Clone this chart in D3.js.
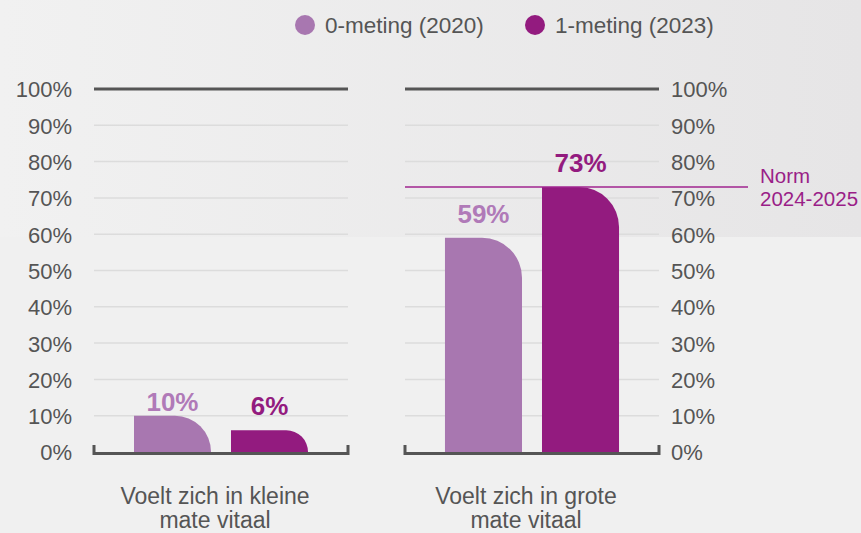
<!DOCTYPE html>
<html>
<head>
<meta charset="utf-8">
<script src="https://cdn.jsdelivr.net/npm/d3@7"></script>
<style>
  body { margin: 0; background: #f0f0f0; }
  svg { display: block; font-family: "Liberation Sans", Arial, sans-serif; }
</style>
</head>
<body>
<svg id="chart" width="861" height="533"></svg>
<script>
// data
const categories = ["Voelt zich in kleine mate vitaal", "Voelt zich in grote mate vitaal"];
const categoryLines = [["Voelt zich in kleine", "mate vitaal"], ["Voelt zich in grote", "mate vitaal"]];
const series = ["0-meting (2020)", "1-meting (2023)"];
const values2020 = [10, 59];
const values2023 = [6, 73];
const normValue = 73;
const normLabel = ["Norm", "2024-2025"];
const yTicks = [0, 10, 20, 30, 40, 50, 60, 70, 80, 90, 100];

const colors = ["#a877b0", "#931b7f"];
const labelColors = ["#b07ab8", "#931b7f"];

const svg = d3.select("#chart");

// achtergrond verloop bovenin
const defs = svg.append("defs");
const grad = defs.append("linearGradient").attr("id", "bgGrad")
  .attr("x1", "0%").attr("x2", "100%").attr("y1", "0%").attr("y2", "0%");
grad.append("stop").attr("offset", "0%").attr("stop-color", "#f1f1f1");
grad.append("stop").attr("offset", "100%").attr("stop-color", "#e6e5e6");
svg.append("rect").attr("width", 861).attr("height", 533).attr("fill", "#f0f0f0");
svg.append("rect").attr("width", 861).attr("height", 237).attr("fill", "url(#bgGrad)");

const y = d3.scaleLinear().domain([0, 100]).range([452, 89]);

// twee panelen
const panels = [{ x0: 94, x1: 348, axis: "left" }, { x0: 405, x1: 659, axis: "right" }];

panels.forEach((p, ci) => {
  const g = svg.append("g");
  const xb = d3.scaleBand().domain(series).range([p.x0, p.x1]).paddingInner(0.206).paddingOuter(0.412);

  // gridlijnen
  g.selectAll("line.grid").data(yTicks.filter(t => t > 0 && t < 100)).join("line")
    .attr("class", "grid")
    .attr("x1", p.x0).attr("x2", p.x1)
    .attr("y1", d => y(d)).attr("y2", d => y(d))
    .attr("stroke", "#dcdcdc").attr("stroke-width", 1.5);
  // 100% lijn
  g.append("line").attr("x1", p.x0).attr("x2", p.x1)
    .attr("y1", y(100)).attr("y2", y(100))
    .attr("stroke", "#555").attr("stroke-width", 3);

  // as-labels
  const ax = p.axis === "left" ? d3.axisLeft(y) : d3.axisRight(y);
  ax.tickValues(yTicks).tickFormat(d => d + "%").tickSize(0).tickPadding(0);
  const axG = g.append("g")
    .attr("transform", "translate(" + (p.axis === "left" ? 72 : 671) + ",0)")
    .call(ax);
  axG.select(".domain").remove();
  axG.selectAll("text").attr("font-size", 22).attr("fill", "#555")
    .attr("font-family", "Liberation Sans, Arial, sans-serif")
    .attr("dy", "0.36em");

  // staven
  const vals = [values2020[ci], values2023[ci]];
  vals.forEach((v, si) => {
    const bx = xb(series[si]), bw = xb.bandwidth();
    const top = y(v), bot = y(0);
    const r = Math.min(40, bot - top, bw);
    const path = "M" + bx + "," + bot +
      "V" + top +
      "H" + (bx + bw - r) +
      "A" + r + "," + r + " 0 0 1 " + (bx + bw) + "," + (top + r) +
      "V" + bot + "Z";
    g.append("path").attr("d", path).attr("fill", colors[si]);
    g.append("text")
      .attr("x", bx + bw / 2).attr("y", top - (v === 10 ? 5 : 15))
      .attr("text-anchor", "middle")
      .attr("font-size", 26).attr("font-weight", "bold")
      .attr("fill", labelColors[si])
      .text(v + "%");
  });

  // basislijn met haakjes
  g.append("path")
    .attr("d", "M" + p.x0 + "," + 445 + "V" + 453.5 + "H" + p.x1 + "V" + 445)
    .attr("fill", "none").attr("stroke", "#555").attr("stroke-width", 3);

  // categorie label
  const cx = (p.x0 + p.x1) / 2 - 6;
  const t = g.append("text").attr("text-anchor", "middle")
    .attr("font-size", 23).attr("fill", "#555");
  categoryLines[ci].forEach((line, li) => {
    t.append("tspan").attr("x", cx).attr("y", 504 + li * 24).text(line);
  });
});

// norm lijn
svg.append("line").attr("x1", 405).attr("x2", 748)
  .attr("y1", y(normValue)).attr("y2", y(normValue))
  .attr("stroke", "#a0248f").attr("stroke-width", 1.5);
const nt = svg.append("text").attr("font-size", 20.5).attr("fill", "#9a1f88");
normLabel.forEach((line, li) => {
  nt.append("tspan").attr("x", 760).attr("y", 183 + li * 23).text(line);
});

// legenda
const legendX = [305, 535];
series.forEach((s, i) => {
  svg.append("circle").attr("cx", legendX[i]).attr("cy", 25).attr("r", 10).attr("fill", colors[i]);
  svg.append("text").attr("x", legendX[i] + 20).attr("y", 33)
    .attr("font-size", 22.5).attr("fill", "#555").text(s);
});
</script>
</body>
</html>
